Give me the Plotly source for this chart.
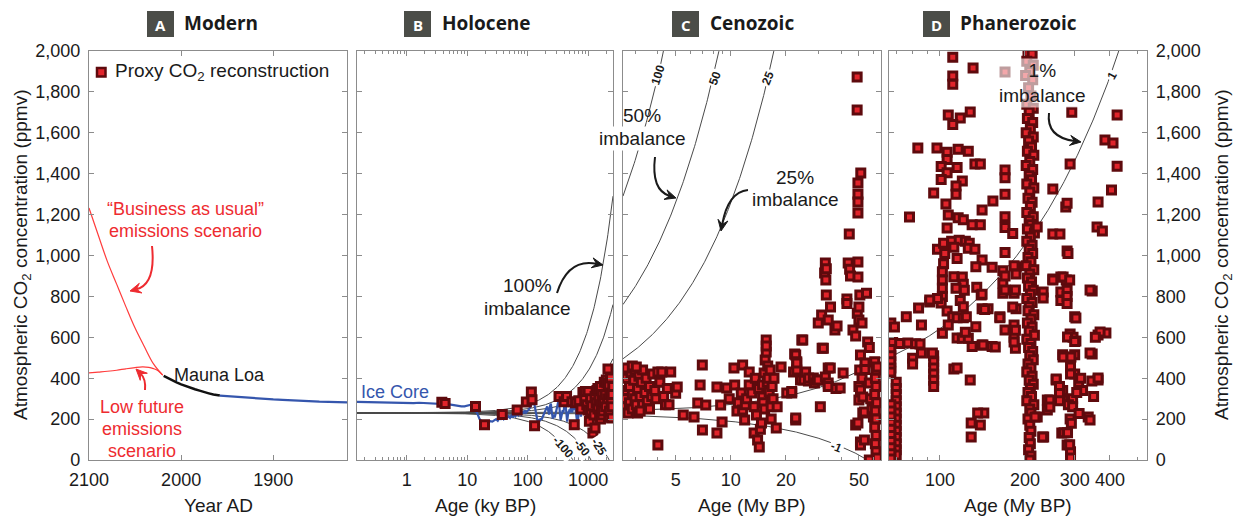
import numpy as np
import plotly.graph_objects as go

# ---------------------------------------------------------------- data
# Panel A: modern record and projections (year AD, ppmv)
bau_year = [2020, 2030, 2040, 2050, 2060, 2070, 2080, 2090, 2100]
bau_co2 = [415, 470, 555, 645, 750, 860, 970, 1100, 1232]
low_year = [2020, 2025, 2030, 2035, 2042, 2050, 2060, 2070, 2080, 2090, 2100]
low_co2 = [415, 437, 447, 453, 455, 452, 446, 439, 434, 430, 426]
mauna_loa_year = [2019, 2015, 2010, 2005, 2000, 1995, 1990, 1985, 1980, 1975, 1970, 1965, 1960, 1958]
mauna_loa_co2 = [411, 401, 390, 380, 370, 361, 354, 346, 339, 331, 326, 320, 317, 315]
modern_ice_year = [1958, 1950, 1940, 1930, 1920, 1910, 1900, 1890, 1880, 1870, 1860, 1850, 1840, 1830, 1820]
modern_ice_co2 = [315, 312, 310, 306, 303, 300, 296, 294, 291, 289, 287, 285, 284, 283, 282]

# Panel B: ice core record (ky BP, ppmv)
ice_age_ky = [0.15, 0.25, 0.4, 0.6, 0.8, 1.0, 1.3, 1.6, 2.0, 2.5, 3.0, 3.5, 4.0, 5.0, 6.0, 7.0,
              8.0, 9.0, 10.0, 11.0, 11.5, 12.0, 12.5, 13.0, 13.5, 14.0, 14.5, 15.0, 15.5, 16.0,
              17.0, 18.0, 19.0, 20.0, 21.0, 22.0, 24.0, 26.0, 28.0, 30.0, 32.0, 34.0, 36.0, 38.0,
              40.0, 42.0, 45.0, 48.0, 51.0, 54.0, 57.0, 60.0, 63.0, 66.0, 70.0, 74.0, 78.0, 82.0,
              86.0, 90.0, 94.0, 98.0, 102.0, 106.0, 110.0, 114.0, 118.0, 122.0, 126.0, 130.0,
              134.0, 138.0, 142.0, 146.0, 150.0, 155.0, 160.0, 165.0, 170.0, 180.0, 190.0, 200.0,
              210.0, 218.0, 226.0, 234.0, 242.0, 250.0, 260.0, 270.0, 280.0, 290.0, 300.0, 310.0,
              318.0, 326.0, 334.0, 342.0, 350.0, 360.0, 370.0, 380.0, 390.0, 400.0, 408.0, 416.0,
              424.0, 432.0, 440.0, 450.0, 460.0, 470.0, 480.0, 490.0, 500.0, 515.0, 530.0, 545.0,
              560.0, 575.0, 590.0, 605.0, 620.0, 635.0, 650.0, 665.0, 680.0, 695.0, 710.0, 725.0,
              740.0, 760.0, 780.0]
ice_co2 = [284, 282, 283, 280, 281, 279, 278, 280, 279, 278, 276, 276, 275, 272, 268, 264,
           262, 262, 264, 266, 270, 260, 248, 240, 238, 238, 232, 220, 210, 200,
           192, 186, 184, 182, 186, 184, 190, 188, 196, 200, 192, 205, 200, 208,
           200, 210, 204, 214, 206, 218, 208, 222, 214, 226, 218, 230, 222, 238,
           228, 242, 232, 236, 244, 250, 262, 272, 276, 284, 280, 268,
           246, 210, 192, 188, 192, 196, 194, 204, 198, 214, 226, 240,
           262, 244, 222, 264, 276, 238, 202, 222, 208, 226, 244, 262,
           282, 296, 262, 208, 196, 210, 232, 244, 232, 252, 276, 290,
           272, 238, 198, 188, 212, 236, 228, 248, 232, 254, 262, 232,
           258, 270, 244, 262, 250, 228, 198, 214, 190, 236, 260, 232,
           250, 212, 236]

# Proxy CO2 reconstructions: (age, ppmv); ky BP for the Holocene panel, My BP otherwise
holocene_proxy = [
    (3.8, 282), (4.3, 276), (13.7, 262), (19.3, 172), (38, 222), (67, 245), (95, 284),
    (115, 333), (118, 295), (130, 168), (330, 310), (400, 285), (440, 310), (540, 285),
    (590, 172), (620, 280), (700, 290), (760, 250), (820, 330), (880, 300), (900, 335),
    (950, 270), (1000, 335), (1000, 245), (1050, 190), (1100, 300), (1100, 240), (1150, 265),
    (1200, 132), (1250, 220), (1300, 156), (1300, 310), (1350, 280), (1400, 340), (1450, 250),
    (1450, 350), (1500, 300), (1550, 220), (1600, 360), (1600, 200), (1650, 270), (1700, 320),
    (1700, 220), (1750, 240), (1800, 290), (1850, 380), (1900, 318), (1950, 260), (2000, 391),
    (2050, 376), (2100, 300), (2130, 445), (2200, 367), (2200, 210), (2250, 240), (2300, 320),
    (2350, 401), (2400, 280), (2450, 205), (2500, 320), (2500, 260), (2550, 360),
]
cenozoic_proxy = [
    (2.65, 300), (2.65, 260), (2.7, 340), (2.7, 400), (2.75, 230), (2.8, 280), (2.8, 360),
    (2.85, 420), (2.9, 320), (2.9, 250), (2.95, 390), (3.0, 300), (3.0, 440), (3.05, 270),
    (3.1, 350), (3.1, 230), (3.15, 410), (3.2, 310), (3.25, 380), (3.3, 270), (3.3, 440),
    (3.4, 330), (3.45, 400), (3.5, 290), (3.6, 360), (3.7, 310), (3.75, 420), (3.85, 340),
    (3.9, 300), (4.0, 430), (4.1, 380), (4.2, 430), (4.3, 310), (4.4, 270), (4.5, 350),
    (4.7, 430), (2.7, 450), (2.9, 460), (3.2, 240), (3.6, 250), (3.05, 455),
    (4.0, 73), (4.6, 270), (5.0, 327), (5.1, 357), (5.5, 220), (6.3, 210), (6.99, 465),
    (6.8, 367), (6.6, 279), (7.0, 147), (7.3, 269), (8.4, 132), (8.4, 357), (8.8, 269),
    (8.96, 186), (9.5, 352), (9.8, 300), (10.4, 450), (10.5, 367), (10.8, 240), (11.0, 280),
    (11.6, 465), (11.4, 328), (11.6, 245), (11.9, 196), (12.0, 270), (12.2, 300), (12.6, 430),
    (12.6, 367), (13.0, 328), (13.4, 260), (13.4, 132), (13.6, 400), (13.8, 220), (14.0, 98),
    (14.2, 350), (14.3, 64), (14.5, 150), (14.7, 181), (14.9, 308), (14.9, 367), (15.0, 280),
    (15.2, 425), (15.3, 250), (15.4, 489), (15.6, 528), (15.6, 587), (15.6, 557), (15.8, 380),
    (15.9, 460), (16.0, 400), (16.2, 333), (16.4, 440), (16.6, 260), (16.6, 200), (16.8, 360),
    (17.0, 300), (17.2, 400), (17.7, 156), (17.9, 260), (18.8, 455), (20.2, 328), (21.5, 328),
    (21.5, 335), (22.0, 430), (22.3, 518), (22.6, 196), (22.6, 205), (22.6, 514), (22.9, 480),
    (22.9, 440), (22.9, 474), (24.0, 391), (24.4, 587), (24.7, 587), (25.0, 391), (25.6, 430),
    (26.5, 386), (26.6, 401), (28.2, 401), (28.6, 376), (29.5, 391), (30.0, 391), (30.8, 260),
    (31.5, 547), (32.0, 547), (32.8, 406), (34.0, 377), (34.0, 450), (34.0, 360), (34.9, 450),
    (37.5, 350), (39.5, 352), (41.0, 425),
    (30.0, 670), (31.3, 709), (32.5, 915), (32.8, 963), (33.0, 880), (33.2, 935), (33.2, 807),
    (34.0, 685), (35.0, 748), (37.0, 636), (38.0, 655), (43.0, 787), (43.0, 765), (43.7, 963),
    (44.3, 1105), (44.5, 933), (45.0, 900), (46.4, 636), (48.0, 606), (48.0, 171),
    (48.9, 1873), (48.9, 1711), (49.0, 718), (49.4, 1355), (49.4, 1300), (49.4, 1262),
    (49.4, 1208), (49.4, 968), (49.4, 895), (49.4, 181), (50.0, 748), (50.0, 685), (50.0, 360),
    (50.0, 293), (50.5, 440), (50.6, 807), (51.0, 514), (51.0, 342), (51.0, 88), (51.0, 73),
    (51.2, 1403), (52.0, 670), (52.0, 400), (52.5, 308), (52.5, 230), (53.6, 235), (53.6, 98),
    (54.0, 474), (54.0, 442), (55.0, 816), (55.8, 577), (57.0, 550), (57.0, 0), (57.0, 377),
    (58.0, 300), (59.0, 250), (60.0, 210),
    (61.0, 480), (62.0, 440), (61.5, 400), (62.0, 360), (61.0, 320), (62.5, 280), (61.5, 240),
    (62.0, 200), (61.0, 160), (62.0, 120), (61.5, 80), (62.0, 40), (63.0, 10), (63.0, 455),
]
phanerozoic_proxy = [
    (111, 1970), (131, 1917), (111, 1878), (111, 1838), (107, 1687), (118, 1672), (128, 1702),
    (111, 1640), (83.5, 1526), (97.6, 1526), (106, 1505), (116, 1520), (126, 1510), (106, 1470),
    (101, 1435), (115, 1430), (133, 1447), (139, 1447), (106, 1405), (101, 1372), (120, 1364),
    (114, 1340), (95, 1306), (114, 1300), (105, 1252), (170, 1418), (170, 1380), (170, 1300),
    (154, 1266), (141, 1223), (107, 1198), (116, 1185), (121, 1175), (130, 1150), (139, 1150),
    (78, 1188), (106, 1135), (170, 1190), (170, 1137), (181, 1108), (98, 1031), (103, 1060),
    (110, 1070), (117, 1075), (123, 1070), (127, 1060), (104, 1010), (112, 1040), (126, 1035),
    (133, 1030), (115, 985), (141, 978), (153, 943), (134, 945), (103, 960), (102, 920),
    (102, 880), (102, 840), (102, 800), (101, 768), (112, 896), (120, 895), (121, 860),
    (114, 840), (135, 845), (122, 830), (118, 780), (121, 750), (140, 807), (92, 773),
    (84, 743), (98, 790), (106, 728), (111, 700), (115, 695), (121, 695), (124, 700),
    (141, 740), (148, 740), (163, 700), (76, 700), (67, 670), (69, 650), (86, 660), (107, 660),
    (134, 652), (102, 620), (115, 597), (120, 595), (126, 595), (123, 625), (130, 555),
    (141, 562), (153, 555), (185, 547), (183, 600), (68, 575), (72, 570), (77, 572), (82, 568),
    (85, 567), (67, 540), (67, 510), (67, 480), (67, 450), (67, 430), (86, 523), (80, 498),
    (80, 470), (95, 510), (95, 480), (95, 450), (95, 420), (95, 390), (95, 360), (112, 445),
    (128, 391), (70, 380), (70, 350), (70, 320), (70, 290), (70, 260), (70, 230), (70, 200),
    (70, 170), (70, 140), (70, 110), (70, 80), (70, 50), (70, 25), (67, 270), (67, 240),
    (67, 210), (67, 180), (67, 150), (67, 120), (67, 90), (67, 60), (67, 30), (67, 5),
    (143, 230), (139, 171), (129, 112), (167, 865), (167, 815), (167, 925), (170, 1015),
    (186, 945), (186, 910), (183, 816), (186, 740), (183, 660), (181, 748), (185, 831),
    (185, 635), (183, 577), (170, 636), (170, 831), (170, 900), (183, 950), (163, 695),
    (157, 553), (142, 562), (144, 736), (141, 810), (129, 181), (136, 230), (115, 450),
    (92, 782), (94, 523), (170, 1897),
    (205, 1990), (212, 1985), (203, 1950), (214, 1930), (208, 1900), (201, 1880), (213, 1860),
    (206, 1820), (210, 1780), (203, 1740), (214, 1720), (207, 1700), (204, 1670), (213, 1650),
    (209, 1620), (202, 1600), (214, 1580), (206, 1560), (211, 1530), (204, 1510), (215, 1490),
    (208, 1460), (202, 1440), (213, 1420), (207, 1390), (211, 1370), (203, 1350), (215, 1330),
    (208, 1310), (205, 1280), (212, 1260), (209, 1240), (203, 1210), (214, 1190), (207, 1170),
    (210, 1150), (204, 1130), (216, 1110), (209, 1090), (203, 1070), (212, 1050), (207, 1030),
    (213, 1010), (205, 990), (210, 970), (202, 950), (215, 930), (208, 910), (204, 890),
    (211, 870), (206, 850), (214, 830), (209, 810), (203, 790), (212, 770), (207, 750),
    (205, 730), (215, 710), (210, 690), (204, 670), (212, 650), (207, 630), (216, 610),
    (203, 590), (210, 570), (206, 550), (213, 530), (208, 510), (214, 490), (205, 470),
    (210, 450), (203, 430), (212, 410), (207, 390), (214, 370), (209, 350), (205, 330),
    (211, 310), (203, 290), (215, 270), (208, 250), (210, 230), (205, 200), (208, 170),
    (210, 140), (207, 110), (209, 80), (206, 50), (210, 20), (208, 0),
    (293, 1700), (424, 1687), (384, 1565), (410, 1550), (424, 1437), (289, 1447), (251, 1325),
    (405, 1320), (363, 1262), (279, 1237), (282, 1255), (221, 1139), (251, 1105), (266, 1105),
    (360, 1139), (376, 1120), (282, 1022), (284, 1010), (251, 885), (268, 895), (280, 880),
    (346, 826), (232, 822), (232, 792), (268, 822), (268, 780), (300, 700), (289, 616),
    (296, 600), (303, 582), (363, 611), (387, 621), (346, 518), (272, 515), (300, 515),
    (290, 455), (300, 420), (310, 380), (320, 340), (295, 300), (305, 330), (315, 400),
    (258, 391), (240, 293), (240, 245), (272, 340), (272, 293), (363, 391), (345, 386),
    (350, 310), (335, 210), (340, 196), (285, 270), (295, 260), (289, 200), (270, 132),
    (282, 73), (290, 40), (290, 10), (233, 112), (221, 210), (340, 831), (369, 626),
    (355, 600), (340, 523), (363, 401), (273, 895), (288, 880), (251, 880), (282, 830),
    (282, 800), (282, 765), (303, 694), (283, 602), (300, 580), (273, 504), (291, 504),
    (290, 420), (258, 396), (265, 360), (265, 325), (265, 290), (311, 227), (292, 180),
    (275, 133), (283, 133), (288, 75), (245, 293), (245, 259), (231, 112), (217, 210),
]

# Carbon-imbalance isolines: CO2 = base + rate * pct * age
imbalance_pct = [100, 50, 25, 1, -1, -25, -50, -100]
imbalance_base_co2 = 230.0
imbalance_rate = 4.11  # ppmv per My per percent

y_ticks = list(range(0, 2001, 200))

# ---------------------------------------------------------------- layout helpers
W, H = 1242, 519


def px(x):
    return x / W


def py(y):
    return 1 - y / H


FONT = "Liberation Sans, Arial, sans-serif"
TITLE_FONT = "Open Sans, Noto Sans, sans-serif"
FRAME = "#8c8c8c"
INK = "#1a1a1a"
RED_TXT = "#ee2b30"
RED_LINE = "#ff3c3c"
BLUE = "#3556ad"
SQ_FILL = "#e1242b"
SQ_EDGE = "#5e0a0d"

y_dom = [py(460), py(51)]
x_doms = [[px(89), px(347)], [px(357), px(613)], [px(623), px(881)], [px(889), px(1147)]]

fig = go.Figure()

# ---------------------------------------------------------------- isolines
def iso_trace(age_vals, age_to_my, xa, ya):
    for p in imbalance_pct:
        co2 = imbalance_base_co2 + imbalance_rate * p * (np.asarray(age_vals) * age_to_my)
        fig.add_trace(go.Scatter(x=age_vals, y=co2, mode="lines", xaxis=xa, yaxis=ya,
                                 line=dict(color="#4a4a4a", width=1), hoverinfo="skip",
                                 showlegend=False))


iso_trace(np.logspace(np.log10(0.15), np.log10(2580), 400), 1e-3, "x2", "y2")
iso_trace(np.logspace(np.log10(2.58), np.log10(66), 300), 1.0, "x3", "y3")
iso_trace(np.logspace(np.log10(66), np.log10(541), 300), 1.0, "x4", "y4")

# ---------------------------------------------------------------- panel A lines
fig.add_trace(go.Scatter(x=bau_year, y=bau_co2, mode="lines", xaxis="x", yaxis="y",
                         line=dict(color=RED_LINE, width=1.2, shape="spline"), showlegend=False))
fig.add_trace(go.Scatter(x=low_year, y=low_co2, mode="lines", xaxis="x", yaxis="y",
                         line=dict(color=RED_LINE, width=1.2, shape="spline"), showlegend=False))
fig.add_trace(go.Scatter(x=mauna_loa_year, y=mauna_loa_co2, mode="lines", xaxis="x", yaxis="y",
                         line=dict(color="#111111", width=2.5), showlegend=False))
fig.add_trace(go.Scatter(x=modern_ice_year, y=modern_ice_co2, mode="lines", xaxis="x", yaxis="y",
                         line=dict(color=BLUE, width=2.2), showlegend=False))

# ---------------------------------------------------------------- panel B ice core
fig.add_trace(go.Scatter(x=ice_age_ky, y=ice_co2, mode="lines", xaxis="x2", yaxis="y2",
                         line=dict(color=BLUE, width=2.2), showlegend=False))

# ---------------------------------------------------------------- proxies
marker = dict(symbol="square", size=8, color=SQ_FILL, line=dict(color=SQ_EDGE, width=3))
for data, xa, ya in [(holocene_proxy, "x2", "y2"), (cenozoic_proxy, "x3", "y3"),
                     (phanerozoic_proxy, "x4", "y4")]:
    ages = [a for a, _ in data]
    vals = [v for _, v in data]
    fig.add_trace(go.Scatter(x=ages, y=vals, mode="markers", xaxis=xa, yaxis=ya,
                             marker=marker, showlegend=False))

# ---------------------------------------------------------------- axes
tick_font = dict(family=FONT, size=18, color=INK)
common_x = dict(showline=True, linecolor=FRAME, linewidth=1.2, mirror="ticks", ticks="inside",
                ticklen=5, tickcolor=FRAME, showgrid=False, zeroline=False, tickfont=tick_font,
                automargin=False, ticklabelstandoff=3)
common_y = dict(showline=True, linecolor=FRAME, linewidth=1.2, mirror="ticks", ticks="inside",
                ticklen=5, tickcolor=FRAME, showgrid=False, zeroline=False, tickfont=tick_font,
                range=[0, 2000], tickvals=y_ticks, tickformat=",d", domain=y_dom,
                automargin=False, ticklabelstandoff=4)

minor_style = dict(ticks="inside", ticklen=3, tickcolor=FRAME, showgrid=False)

fig.update_layout(
    width=W, height=H, margin=dict(l=0, r=0, t=0, b=0, autoexpand=False),
    plot_bgcolor="white", paper_bgcolor="white", showlegend=False,
    xaxis=dict(common_x, domain=x_doms[0], anchor="y", range=[2100, 1820],
               tickvals=[2100, 2000, 1900]),
    yaxis=dict(common_y, anchor="x", showticklabels=True),
    xaxis2=dict(common_x, domain=x_doms[1], anchor="y2", type="log",
                range=[np.log10(0.15), np.log10(2580)], tickvals=[1, 10, 100, 1000],
                ticktext=["1", "10", "100", "1000"],
                minor=dict(minor_style, tickvals=[0.2, 0.3, 0.4, 0.5, 0.6, 0.7, 0.8, 0.9,
                                                  2, 3, 4, 5, 6, 7, 8, 9, 20, 30, 40, 50, 60, 70,
                                                  80, 90, 200, 300, 400, 500, 600, 700, 800, 900,
                                                  2000])),
    yaxis2=dict(common_y, anchor="x2", showticklabels=False),
    xaxis3=dict(common_x, domain=x_doms[2], anchor="y3", type="log",
                range=[np.log10(2.58), np.log10(66)], tickvals=[5, 10, 20, 50],
                ticktext=["5", "10", "20", "50"],
                minor=dict(minor_style, tickvals=[3, 4, 6, 7, 8, 9, 30, 40, 60])),
    yaxis3=dict(common_y, anchor="x3", showticklabels=False),
    xaxis4=dict(common_x, domain=x_doms[3], anchor="y4", type="log",
                range=[np.log10(66), np.log10(541)], tickvals=[100, 200, 300, 400],
                ticktext=["100", "200", "300", "400"],
                minor=dict(minor_style, tickvals=[70, 80, 90, 500])),
    yaxis4=dict(common_y, anchor="x4", side="right", showticklabels=True),
)

# ---------------------------------------------------------------- text
annotations = []


def text(x, y, s, size=19, color=INK, bg=None, anchor="center", bold=False, angle=0,
         family=FONT):
    a = dict(x=px(x), y=py(y), xref="paper", yref="paper", text=s, showarrow=False,
             font=dict(family=family, size=size, color=color), xanchor=anchor, yanchor="middle",
             textangle=angle)
    if bold:
        a["text"] = "<b>" + s + "</b>"
    if bg:
        a["bgcolor"] = bg
    annotations.append(a)


# panel titles with letter boxes
shapes = []
for letter, bx, title, tx in [("A", 147, "Modern", 182), ("B", 404, "Holocene", 440),
                              ("C", 672, "Cenozoic", 708), ("D", 923, "Phanerozoic", 958)]:
    shapes.append(dict(type="rect", xref="paper", yref="paper", x0=px(bx), x1=px(bx + 27),
                       y0=py(37), y1=py(11), fillcolor="#4b4d48", line=dict(width=0)))
    text(bx + 13.5, 25, letter, size=15, color="white", bold=True, family=TITLE_FONT)
    text(tx, 23, title, size=19, bold=True, anchor="left", family=TITLE_FONT)

# axis titles
for cx, s in [(218, "Year AD"), (485, "Age (ky BP)"), (752, "Age (My BP)"), (1018, "Age (My BP)")]:
    text(cx, 505, s, size=19)
ytitle = "Atmospheric CO<sub>2</sub> concentration (ppmv)"
text(22, 255, ytitle, size=19, angle=-90)
text(1223, 255, ytitle, size=19, angle=-90)

# legend
shapes.append(dict(type="rect", xref="paper", yref="paper", x0=px(97), x1=px(105.5),
                   y0=py(76.5), y1=py(68), fillcolor=SQ_FILL, line=dict(color=SQ_EDGE, width=2.5)))
text(113, 72, "Proxy CO<sub>2</sub> reconstruction", size=19, anchor="left")

# panel A labels
text(185, 209, "\u201cBusiness as usual\u201d", size=18, color=RED_TXT)
text(185, 231, "emissions scenario", size=18, color=RED_TXT)
text(142, 407, "Low future", size=18, color=RED_TXT)
text(142, 429, "emissions", size=18, color=RED_TXT)
text(142, 451, "scenario", size=18, color=RED_TXT)
text(219, 375, "Mauna Loa", size=18)
text(395, 392, "Ice Core", size=18, color=BLUE)

# imbalance labels
text(527, 285, "100%", size=19, bg="white")
text(527, 308, "imbalance", size=19, bg="white")
text(642, 115, "50%", size=19)
text(642, 138, "imbalance", size=19, bg="white")
text(795, 177, "25%", size=19)
text(795, 200, "imbalance", size=19)
text(1042, 83, "1%<br>imbalance", size=19, bg="rgba(255,255,255,0.6)")

# isoline value labels
for x, y, s, ang in [(658, 75, "100", -72), (715, 78, "50", -70), (768, 78, "25", -68),
                     (836, 447, "-1", 22), (1112, 76, "1", -62), (563, 447, "-100", 48),
                     (582, 448, "-50", 52), (599, 447, "-25", 58)]:
    text(x, y, s, size=12, bold=True, angle=ang, bg="white")


# curved arrows: quadratic path plus a filled triangular head
def curved_arrow(p0, c, p1, color=INK, head_len=11, head_half=5):
    (x0, y0), (cx, cy), (x1, y1) = p0, c, p1
    dx, dy = x1 - cx, y1 - cy
    n = (dx * dx + dy * dy) ** 0.5
    ux, uy = dx / n, dy / n
    bx, by = x1 - ux * head_len, y1 - uy * head_len
    ex, ey = x1 - ux * head_len * 0.6, y1 - uy * head_len * 0.6
    shapes.append(dict(type="path", xref="paper", yref="paper",
                       path=f"M {px(x0)},{py(y0)} Q {px(cx)},{py(cy)} {px(ex)},{py(ey)}",
                       line=dict(color=color, width=2)))
    lx, ly = bx - uy * head_half, by + ux * head_half
    rx, ry = bx + uy * head_half, by - ux * head_half
    shapes.append(dict(type="path", xref="paper", yref="paper",
                       path=(f"M {px(x1)},{py(y1)} L {px(lx)},{py(ly)} "
                             f"L {px(ex)},{py(ey)} L {px(rx)},{py(ry)} Z"),
                       fillcolor=color, line=dict(color=color, width=1)))


curved_arrow((152, 246), (156, 284), (130, 291), RED_TXT)
curved_arrow((145, 390), (146, 379), (136, 369), RED_TXT)
curved_arrow((557, 293), (568, 258), (603, 265))
curved_arrow((655, 157), (651, 190), (676, 198))
curved_arrow((748, 190), (728, 192), (721, 231))
curved_arrow((1049, 113), (1046, 137), (1081, 142))

fig.update_layout(annotations=annotations, shapes=shapes)
fig.write_html("out.html")
